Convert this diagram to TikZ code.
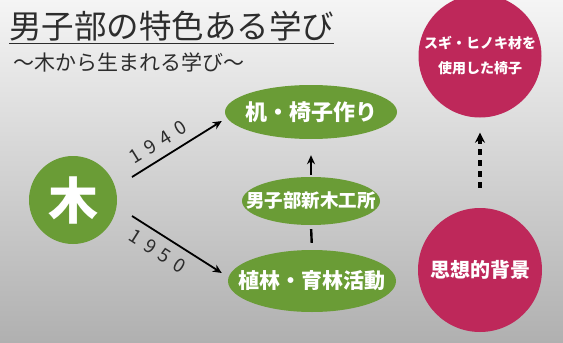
\documentclass[tikz,border=0pt]{standalone}
\usepackage{fontspec}
\setmainfont{Noto Sans CJK JP}
\newfontfamily\jpfont{Noto Sans CJK JP}
\usetikzlibrary{shapes.geometric,arrows.meta,calc}
\definecolor{leaf}{RGB}{106,156,54}
\definecolor{rose}{RGB}{190,40,90}
\definecolor{ink}{RGB}{45,45,45}
\newcommand{\zb}[1]{\makebox[0pt]{#1}}
\newcommand{\yr}[4]{#1\hspace{7pt}#2\hspace{7pt}#3\hspace{7pt}#4}
\tikzset{
  greenell/.style={ellipse, fill=leaf, draw=none, text=white, inner sep=0pt, font=\jpfont\bfseries},
  pinkcirc/.style={circle, fill=rose, draw=none, text=white, inner sep=0pt, align=center, font=\jpfont\bfseries},
  arr/.style={-{Stealth[length=9pt,width=8pt]}, line width=1.8pt, draw=black},
  yearlbl/.style={font=\jpfont\fontsize{19}{19}\selectfont, text=ink, inner sep=0pt}
}
\begin{document}
\begin{tikzpicture}[x=1pt,y=-1pt]
\useasboundingbox (0,0) rectangle (563,343);
\shade[top color=gray!8, bottom color=gray!62] (0,0) rectangle (563,343);
% title
\node[anchor=west, inner sep=0pt, text=ink, font=\jpfont\fontsize{32.5}{32.5}\selectfont] (title) at (9,26) {男子部の特色ある学び};
\draw[line width=1.5pt, ink] ($(title.south west)+(0,2)$) coordinate (ul1) -- ($(title.south east)+(0,2)$) coordinate (ul2);
\node[anchor=west, inner sep=0pt, text=ink, font=\jpfont\fontsize{21}{21}\selectfont] (sub) at (13,62) {〜木から生まれる学び〜};
% nodes
\node[circle, fill=leaf, minimum size=88pt, inner sep=0pt, text=white, font=\jpfont\bfseries\fontsize{50}{50}\selectfont] (ki) at (73,200) {\zb{木}};
\node[greenell, minimum width=172pt, minimum height=54pt, font=\jpfont\bfseries\fontsize{22}{22}\selectfont] (desk) at (311,112) {\zb{机・椅子作り}};
\node[greenell, minimum width=138pt, minimum height=48pt, font=\jpfont\bfseries\fontsize{18.5}{18.5}\selectfont] (kobo) at (311,201) {\zb{男子部新木工所}};
\node[greenell, minimum width=168pt, minimum height=62pt, font=\jpfont\bfseries\fontsize{21}{21}\selectfont] (plant) at (312,281) {\zb{植林・育林活動}};
\node[pinkcirc, minimum size=123pt, font=\jpfont\bfseries\fontsize{14}{25}\selectfont] (sugi) at (480,56) {\zb{スギ・ヒノキ材を}\\\zb{使用した椅子}};
\node[pinkcirc, minimum size=124pt, font=\jpfont\bfseries\fontsize{20}{20}\selectfont] (shiso) at (480,270) {\zb{思想的背景}};
% connectors
\coordinate (a1s) at ($(ki.center)+(59,-23)$);
\coordinate (a1e) at ($(desk.west)+(-3,9)$);
\coordinate (a2s) at ($(ki.center)+(59,16)$);
\coordinate (a2e) at ($(plant.west)+(-6,-8)$);
\draw[arr] (a1s) -- node[yearlbl, sloped, above=8pt, pos=0.38] (y1) {\yr1940} (a1e);
\draw[arr] (a2s) -- node[yearlbl, sloped, below=8pt, pos=0.38] (y2) {\yr1950} (a2e);
\draw[arr, line width=2.4pt, shorten <=2pt, shorten >=16pt] (kobo.north) -- (desk.south);
\draw[line width=2.4pt, shorten <=4pt, shorten >=7pt] (kobo.south) -- (plant.north);
\draw[-{Stealth[length=10pt,width=10pt]}, line width=3.5pt, dash pattern=on 6pt off 5pt, shorten <=20pt, shorten >=15pt] (shiso.north) -- (sugi.south);
\end{tikzpicture}
\end{document}
